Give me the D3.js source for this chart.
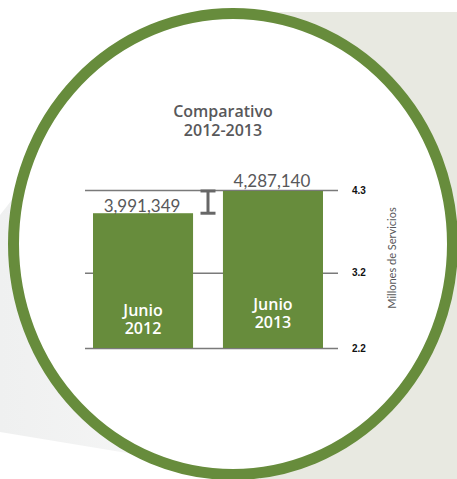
<!DOCTYPE html>
<html lang="es">
<head>
<meta charset="UTF-8">
<title>Comparativo 2012-2013</title>
<script src="https://d3js.org/d3.v7.min.js"></script>
<style>
  html, body { margin: 0; padding: 0; background: #fff; }
  svg { display: block; }
</style>
</head>
<body>
<div id="chart"></div>
<script>
// data
const categories = ["Junio 2012", "Junio 2013"];
const values = [3.991349, 4.287140];          // millones de servicios
const valueLabels = ["3,991,349", "4,287,140"];
const tickValues = [2.2, 3.2, 4.3];
const tickLabels = ["2.2", "3.2", "4.3"];

const width = 457, height = 479;
const green = "#678c3c";
const grey = "#58585a";

const svg = d3.select("#chart").append("svg")
  .attr("width", width)
  .attr("height", height);

// background decoration
const grad = svg.append("defs").append("linearGradient")
  .attr("id", "leftShade").attr("x1", 0).attr("y1", 0).attr("x2", 1).attr("y2", 0);
grad.append("stop").attr("offset", 0).attr("stop-color", "#eff0f0");
grad.append("stop").attr("offset", 1).attr("stop-color", "#f8f8f8");

svg.append("polygon")
  .attr("points", "0,215 55,145 230,470 0,432")
  .attr("fill", "url(#leftShade)");

svg.append("rect")
  .attr("x", 260).attr("y", 12)
  .attr("width", width - 260).attr("height", height - 12)
  .attr("fill", "#e8e9e1");

// the ring
svg.append("ellipse")
  .attr("cx", 233).attr("cy", 244)
  .attr("rx", 219.5).attr("ry", 230.5)
  .attr("fill", "#fff")
  .attr("stroke", green)
  .attr("stroke-width", 11);

// scales
const x = d3.scaleBand()
  .domain(categories)
  .range([93, 323])
  .paddingInner(0.23)
  .paddingOuter(0);

const y = d3.scaleLinear()
  .domain([2.2, 4.3])
  .range([348, 190]);

// gridlines + tick labels through an axis
const axis = svg.append("g")
  .attr("transform", "translate(338,0)")
  .call(d3.axisRight(y)
    .tickValues(tickValues)
    .tickFormat((d, i) => tickLabels[i])
    .tickSize(-253)
    .tickPadding(14));

axis.select(".domain").remove();
axis.selectAll(".tick line")
  .attr("stroke", "#7a7a7a")
  .attr("stroke-width", 1.5);
axis.selectAll(".tick text")
  .attr("fill", "#111")
  .attr("font-family", "Liberation Sans, Arial, sans-serif")
  .attr("font-weight", "bold")
  .attr("font-size", 10);

// bars
svg.append("g").selectAll("rect")
  .data(values)
  .join("rect")
  .attr("x", (d, i) => x(categories[i]))
  .attr("y", d => y(d))
  .attr("width", x.bandwidth())
  .attr("height", d => y(2.2) - y(d))
  .attr("fill", green);

// value labels above bars
const labelLift = [1, 4];
svg.append("g").selectAll("text")
  .data(values)
  .join("text")
  .attr("x", (d, i) => x(categories[i]) + x.bandwidth() / 2 - 1)
  .attr("y", (d, i) => y(d) - labelLift[i])
  .attr("text-anchor", "middle")
  .attr("font-family", "Lato, sans-serif")
  .attr("font-size", 17)
  .attr("fill", grey)
  .text((d, i) => valueLabels[i]);

// category labels inside bars
const catOffsets = [316, 310];
const cat = svg.append("g").selectAll("text")
  .data(categories)
  .join("text")
  .attr("text-anchor", "middle")
  .attr("font-family", "Open Sans, sans-serif")
  .attr("font-weight", 600)
  .attr("font-size", 16)
  .attr("fill", "#fff");
cat.each(function (d, i) {
  const parts = d.split(" ");
  const cx = x(d) + x.bandwidth() / 2;
  d3.select(this).selectAll("tspan")
    .data(parts)
    .join("tspan")
    .attr("x", cx)
    .attr("y", (p, j) => catOffsets[i] + j * 17.5)
    .text(p => p);
});

// difference marker between the two bar tops
const mx = (x(categories[0]) + x.bandwidth() + x(categories[1])) / 2;
const diff = svg.append("g")
  .attr("stroke", "#676767")
  .attr("stroke-width", 3);
diff.append("line")
  .attr("x1", mx).attr("x2", mx)
  .attr("y1", y(values[1])).attr("y2", y(values[0]));
[values[1], values[0]].forEach(v => {
  diff.append("line")
    .attr("x1", mx - 7.5).attr("x2", mx + 7.5)
    .attr("y1", y(v)).attr("y2", y(v));
});

// title
const title = svg.append("text")
  .attr("text-anchor", "middle")
  .attr("font-family", "Open Sans, sans-serif")
  .attr("font-weight", 600)
  .attr("font-size", 16)
  .attr("fill", grey);
title.append("tspan").attr("x", 223).attr("y", 117).text("Comparativo");
title.append("tspan").attr("x", 223).attr("y", 135.5).text("2012-2013");

// axis title
svg.append("text")
  .attr("transform", "translate(396,258) rotate(-90)")
  .attr("text-anchor", "middle")
  .attr("font-family", "Lato, sans-serif")
  .attr("font-size", 11)
  .attr("fill", grey)
  .text("Millones de Servicios");
</script>
</body>
</html>
